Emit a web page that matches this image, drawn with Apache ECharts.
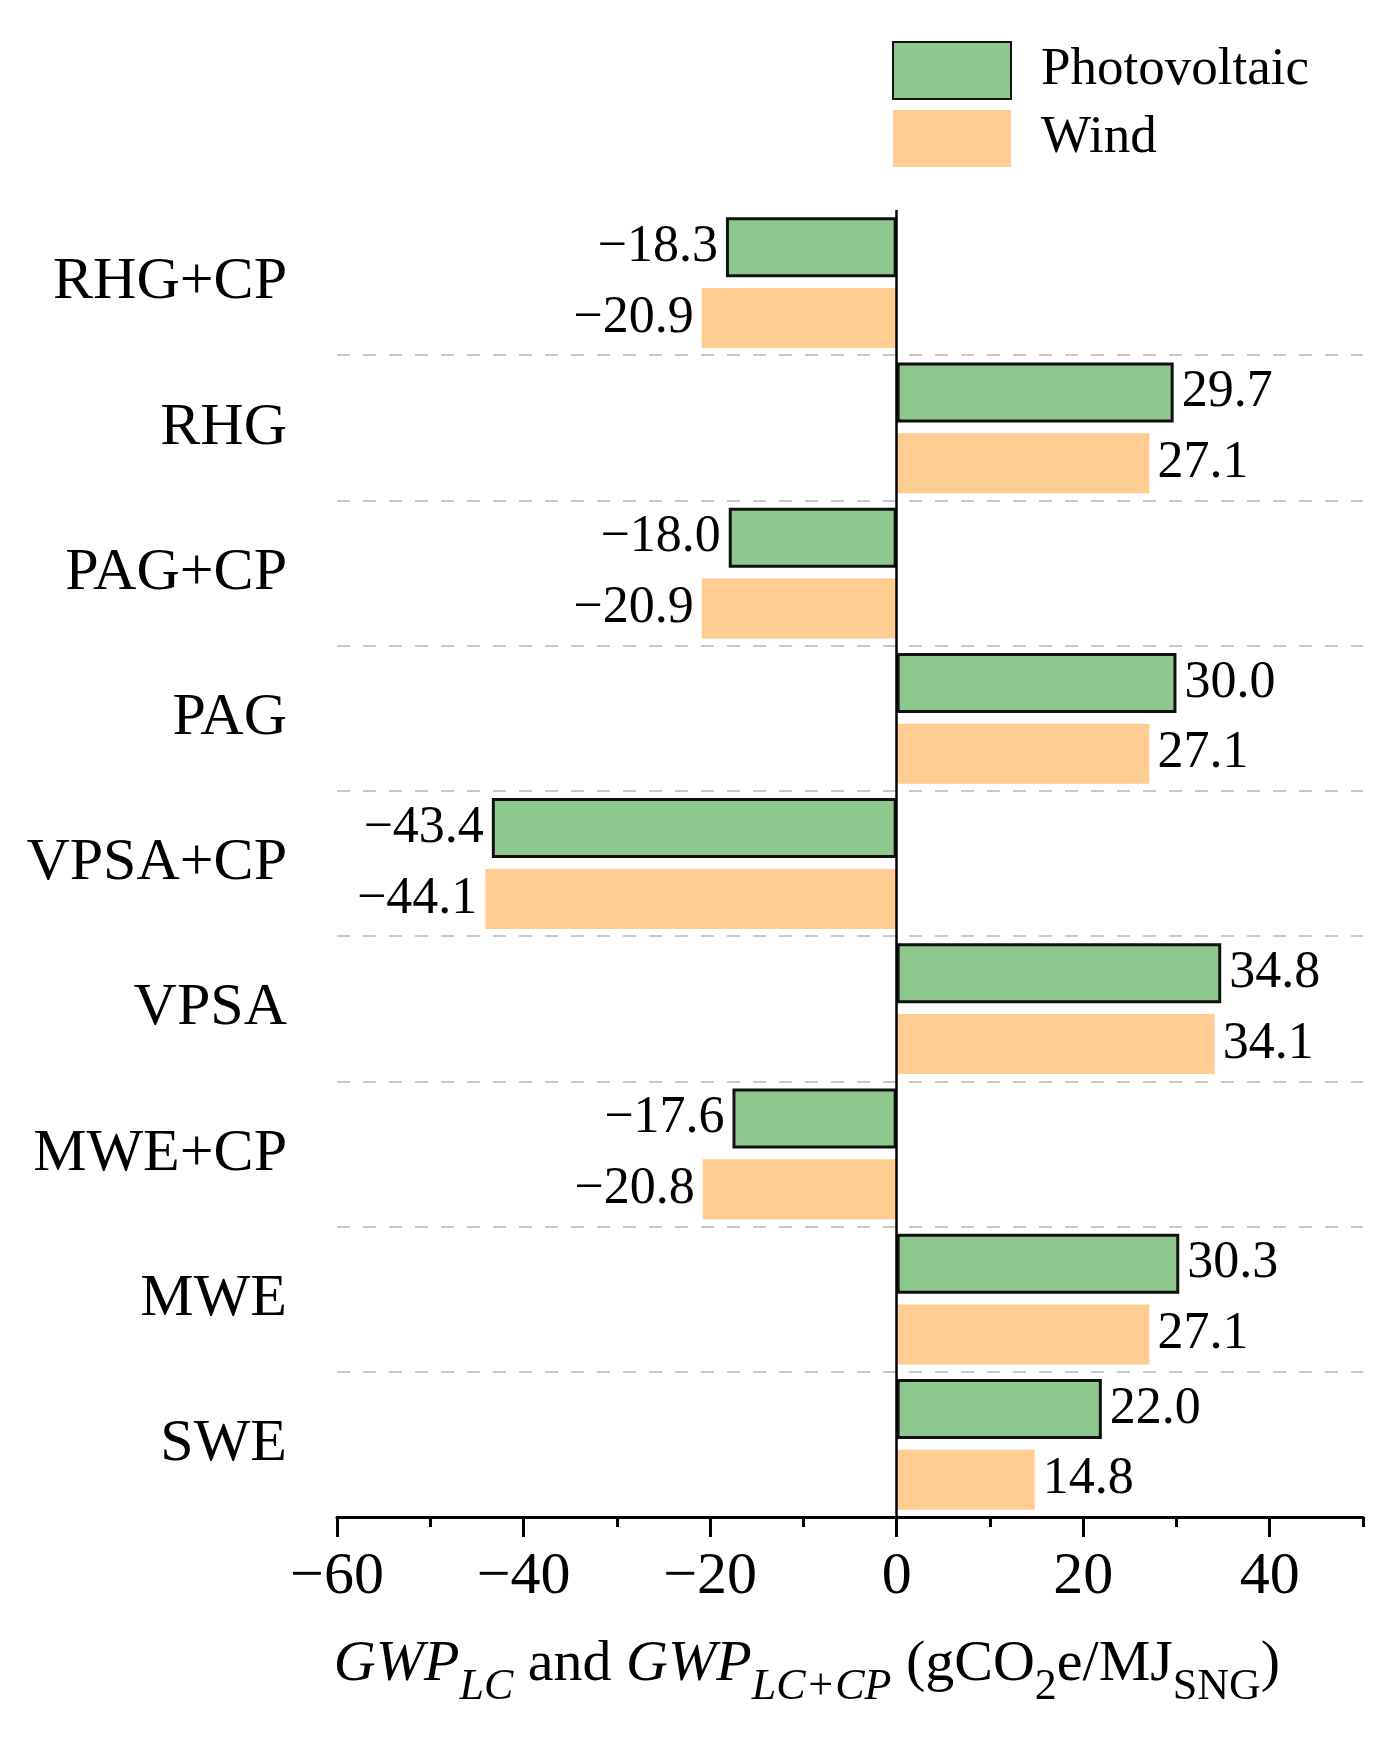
<!DOCTYPE html>
<html>
<head>
<meta charset="utf-8">
<script src="https://cdn.jsdelivr.net/npm/echarts@6/dist/echarts.min.js"></script>
<style>
html, body { margin: 0; padding: 0; background: #fff; }
#main { width: 1393px; height: 1739px; }
</style>
</head>
<body>
<div id="main"></div>
<script>
// categories from top to bottom
var categories = ['RHG+CP', 'RHG', 'PAG+CP', 'PAG', 'VPSA+CP', 'VPSA', 'MWE+CP', 'MWE', 'SWE'];
var photovoltaic = [-18.3, 29.7, -18.0, 30.0, -43.4, 34.8, -17.6, 30.3, 22.0];
var wind = [-20.9, 27.1, -20.9, 27.1, -44.1, 34.1, -20.8, 27.1, 14.8];
var majorTicks = [-60, -40, -20, 0, 20, 40];
var minorTicks = [-50, -30, -10, 10, 30, 50];

var font = "'Liberation Serif', 'Times New Roman', serif";
var green = '#8EC88E';
var orange = '#FFCC92';

function fmtNum(v) {
    return v < 0 ? '\u2212' + Math.abs(v) : String(v);
}

function withLabels(values) {
    return values.map(function (v) {
        return {
            value: v,
            label: { position: v < 0 ? 'left' : 'right' }
        };
    });
}

var barLabel = {
    show: true,
    distance: 8,
    fontFamily: font,
    fontSize: 52,
    color: '#000',
    formatter: function (p) {
        var v = p.value;
        return (v < 0 ? '\u2212' : '') + Math.abs(v).toFixed(1);
    }
};

var option = {
    animation: false,
    backgroundColor: '#fff',
    legend: {
        orient: 'vertical',
        left: 892,
        top: 41,
        padding: 0,
        itemWidth: 118,
        itemHeight: 57,
        itemGap: 10,
        icon: 'rect',
        textStyle: {
            fontFamily: font,
            fontSize: 53,
            color: '#000',
            padding: [0, 0, 0, 25]
        },
        data: ['Photovoltaic', 'Wind']
    },
    grid: {
        left: 337,
        right: 30,
        top: 210,
        bottom: 222
    },
    xAxis: [{
        type: 'value',
        min: -60,
        max: 50,
        interval: 10,
        axisLine: { show: true, lineStyle: { color: '#000', width: 3 } },
        axisTick: {
            show: true,
            length: 20,
            lineStyle: { color: '#000', width: 3 },
            customValues: majorTicks
        },
        axisLabel: {
            margin: 30,
            fontFamily: font,
            fontSize: 60,
            color: '#000',
            customValues: majorTicks,
            formatter: fmtNum
        },
        splitLine: { show: false },
        name: '{i|GWP}{si|LC}{n| and }{i|GWP}{si|LC+CP}{n| (gCO}{s|2}{n|e/MJ}{s|SNG}{n|)}',
        nameLocation: 'middle',
        nameGap: 104,
        nameTextStyle: {
            padding: [0, 86, 0, 0],
            rich: {
                i: { fontFamily: font, fontSize: 58, fontStyle: 'italic', color: '#000', lineHeight: 88, verticalAlign: 'middle' },
                n: { fontFamily: font, fontSize: 58, color: '#000', lineHeight: 88, verticalAlign: 'middle' },
                si: { fontFamily: font, fontSize: 44, fontStyle: 'italic', color: '#000', lineHeight: 44, verticalAlign: 'bottom' },
                s: { fontFamily: font, fontSize: 44, color: '#000', lineHeight: 44, verticalAlign: 'bottom' }
            }
        }
    }, {
        type: 'value',
        min: -60,
        max: 50,
        interval: 10,
        position: 'bottom',
        axisLine: { show: false },
        axisTick: {
            show: true,
            length: 10,
            lineStyle: { color: '#000', width: 3 },
            customValues: minorTicks
        },
        axisLabel: { show: false },
        splitLine: { show: false }
    }],
    yAxis: {
        type: 'category',
        inverse: true,
        data: categories,
        axisLine: { show: false, onZero: false },
        axisTick: { show: false },
        axisLabel: {
            margin: 50,
            fontFamily: font,
            fontSize: 60,
            color: '#000'
        },
        splitLine: {
            show: true,
            interval: function (index) { return index > 0; },
            lineStyle: { color: '#C8C8C8', width: 2, type: [13, 13] }
        }
    },
    series: [{
        name: 'Photovoltaic',
        type: 'bar',
        xAxisIndex: 0,
        barWidth: 60,
        barGap: '18%',
        itemStyle: { color: green, borderColor: '#111', borderWidth: 3 },
        label: barLabel,
        data: withLabels(photovoltaic),
        markLine: {
            silent: true,
            symbol: 'none',
            label: { show: false },
            lineStyle: { color: '#000', width: 2.5, type: 'solid' },
            data: [{ xAxis: 0 }]
        }
    }, {
        name: 'Wind',
        type: 'bar',
        xAxisIndex: 0,
        barWidth: 60,
        barGap: '18%',
        itemStyle: { color: orange },
        label: barLabel,
        data: withLabels(wind)
    }]
};

var chart = echarts.init(document.getElementById('main'));
chart.setOption(option);
</script>
</body>
</html>
